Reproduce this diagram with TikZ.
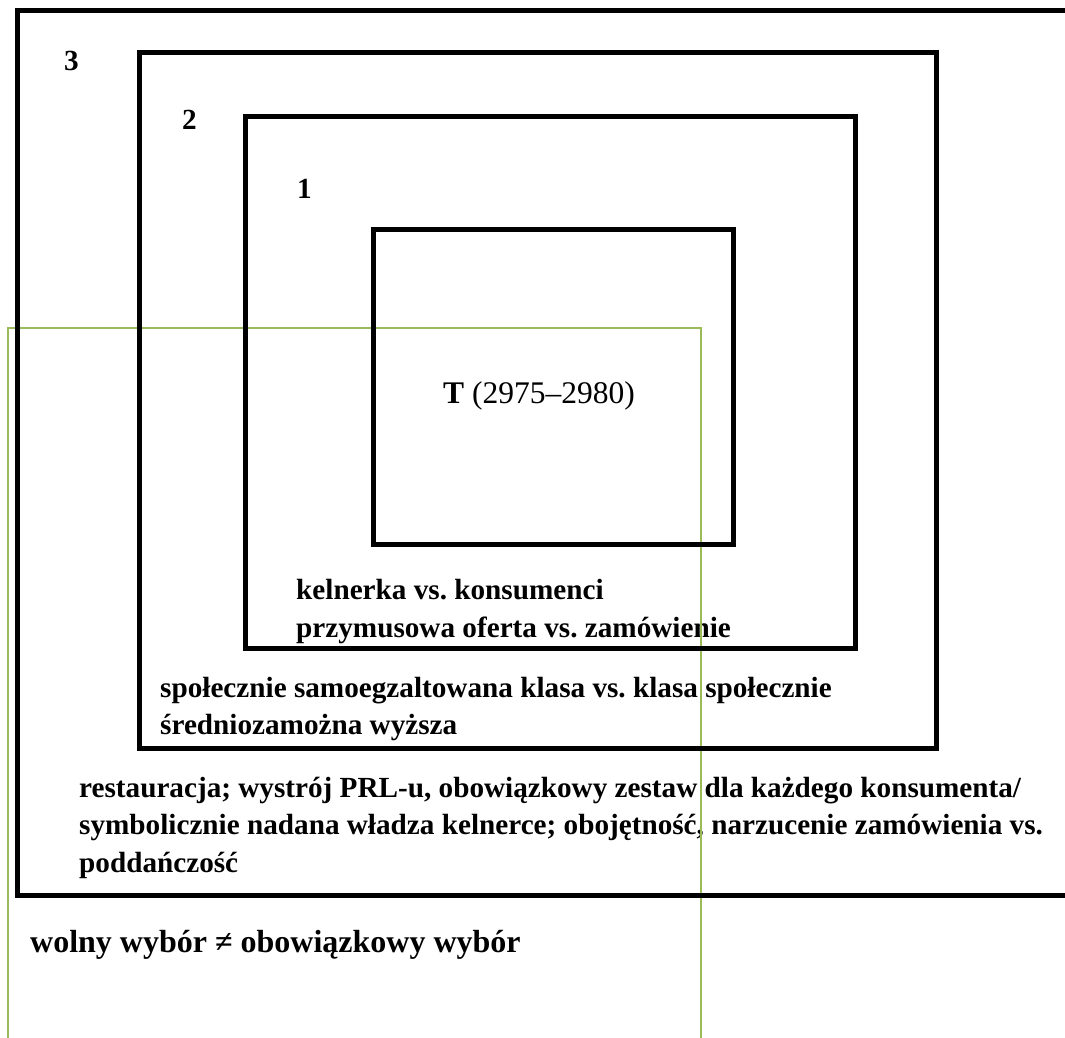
\documentclass[tikz,border=0pt]{standalone}
\usepackage{fontspec}
\setmainfont{Liberation Serif}
\usepackage{xcolor}
\usepackage{tikz}
\usetikzlibrary{positioning}

\definecolor{ramka}{HTML}{9BBB59}
\frenchspacing

\begin{document}
\begin{tikzpicture}[x=1pt, y=-1pt,
  box/.style={draw, line width=5pt},
  txt/.style={anchor=base west, inner sep=0pt, font=\fontsize{29.2}{34}\selectfont\bfseries}]
\useasboundingbox (0,0) rectangle (1065,1037);
% numbers
\node[txt] (l3) at (64,70) {3};
\node[txt] (l2) at (182,129) {2};
\node[txt] (l1) at (297,198) {1};
\node[txt, font=\fontsize{31.5}{36}\selectfont] (t) at (443,403) {\textbf{T} (2975--2980)};
% texts
\node[txt] (k1) at (296,599) {kelnerka vs. konsumenci};
\node[txt] (k2) at (296,637) {przymusowa oferta vs. zamówienie};
\node[txt] (s1) at (160,697) {społecznie samoegzaltowana klasa vs. klasa społecznie};
\node[txt] (s2) at (160,734) {średniozamożna wyższa};
\node[txt] (r1) at (79,797) {restauracja; wystrój PRL-u, obowiązkowy zestaw dla każdego konsumenta/};
\node[txt] (r2) at (79,834) {symbolicznie nadana władza kelnerce; obojętność, narzucenie zamówienia vs.};
\node[txt] (r3) at (79,872) {poddańczość};
\node[txt, font=\fontsize{32}{36}\selectfont\bfseries] (w) at (30,952) {wolny wybór ≠ obowiązkowy wybór};
% green frame
\draw[ramka, line width=2.5pt] (8,1045) -- (8,328) -- (701,328) -- (701,1045);
% nested boxes
\draw[box] (17,10) rectangle (1080,895);
\draw[box] (139.5,52.5) rectangle (936,748);
\draw[box] (245,116) rectangle (855,648);
\draw[box] (373,229) rectangle (733,544);
\end{tikzpicture}
\end{document}
